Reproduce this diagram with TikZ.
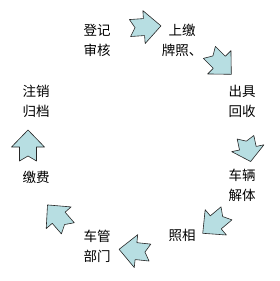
\documentclass[tikz,border=0pt]{standalone}
\usepackage{fontspec}
\setmainfont{Noto Sans CJK SC}
\usepackage{tikz}
\definecolor{pfeilblau}{RGB}{183,222,226}

\begin{document}
\begin{tikzpicture}[x=1pt, y=-1pt,
		schritt/.style={align=center, inner sep=0pt, font=\fontsize{13.5}{20}\selectfont},
		blockpfeil/.pic={%eingekerbter Blockpfeil, zeigt nach rechts
			\filldraw[fill=pfeilblau, draw=black!85, line width=0.6pt, line join=round]
			(-15,8.5) -- (-1,8.5) -- (-1,16.5) -- (16,0) -- (-1,-16.5) -- (-1,-8.5) -- (-15,-8.5) -- (-10,0) -- cycle;}]
		%Bildbereich
		\useasboundingbox (0,0) rectangle (280,281);
		% Schritte beschriften
		\node[schritt] (dengji) at (97,40) {登记\\审核};
		\node[schritt] (shangjiao) at (182,40) {上缴\\牌照、};
		\node[schritt] (chuju) at (242,101) {出具\\回收};
		\node[schritt] (jieti) at (242,185) {车辆\\解体};
		\node[schritt] (zhaoxiang) at (182,235) {照相};
		\node[schritt] (cheguan) at (97,246) {车管\\部门};
		\node[schritt] (jiaofei) at (36,177) {缴费};
		\node[schritt] (zhuxiao) at (36,101) {注销\\归档};
		% Pfeile zeichnen
		\pic[rotate=4] at (145,27) {blockpfeil};
		\pic[rotate=-45] at (220,63) {blockpfeil};
		\pic[rotate=-78, xscale=0.8] at (248,149) {blockpfeil};
		\pic[rotate=220] at (215,223) {blockpfeil};
		\pic[rotate=174] at (135,251) {blockpfeil};
		\pic[rotate=131] at (58,217) {blockpfeil};
		\pic[rotate=90] at (28,146) {blockpfeil};
	\end{tikzpicture}
\end{document}
